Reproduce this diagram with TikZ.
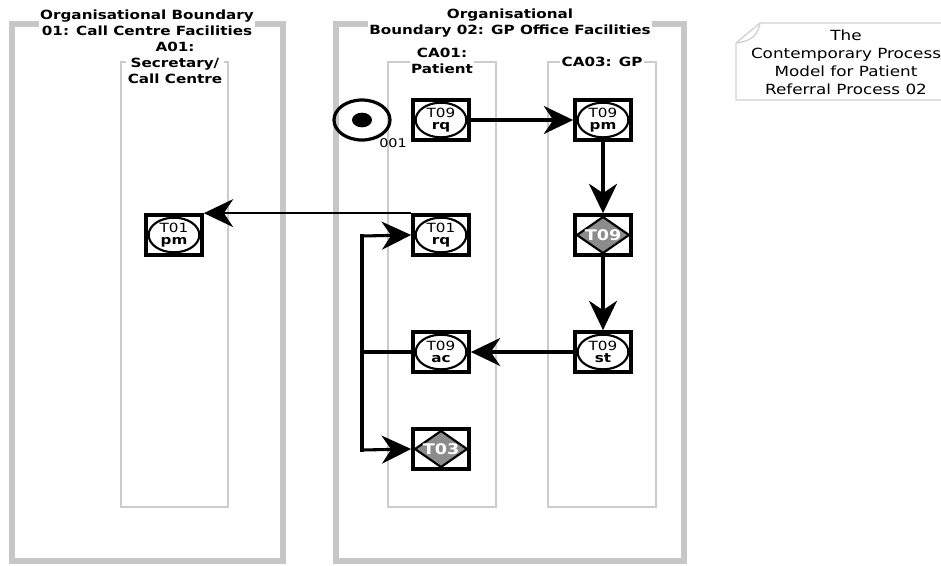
\documentclass[tikz,border=0pt]{standalone}
\usepackage{fontspec}
\setmainfont[FakeStretch=1.2]{DejaVu Sans}
\usetikzlibrary{arrows.meta, shapes.geometric}

\tikzset{
  boundary/.style={draw=black!22, line width=4.5pt},
  lane/.style={draw=black!20, line width=1.2pt},
  title/.style={font=\bfseries\fontsize{9.5}{12}\selectfont, align=center, fill=white, inner sep=1pt},
  trans/.style={draw, line width=2.8pt, minimum width=42pt, minimum height=30pt, inner sep=0pt,
    align=center, font=\fontsize{9.5}{9.2}\selectfont,
    path picture={\draw[line width=1.6pt, fill=white] (path picture bounding box.center) ellipse (19pt and 13pt);}},
  decision/.style={draw, line width=2.8pt, minimum width=42pt, minimum height=30pt, inner sep=0pt,
    font=\bfseries\fontsize{11}{10}\selectfont, text=white,
    path picture={\draw[line width=1.6pt, fill=black!45]
      ([xshift=-19.5pt]path picture bounding box.center) -- ([yshift=13.5pt]path picture bounding box.center)
      -- ([xshift=19.5pt]path picture bounding box.center) -- ([yshift=-13.5pt]path picture bounding box.center) -- cycle;}},
  flow/.style={line width=2.3pt, -{Stealth[length=22pt, width=21pt, inset=7pt]}},
}

\begin{document}
\begin{tikzpicture}[x=0.75pt, y=-0.75pt]
  \useasboundingbox (0,0) rectangle (941,565);
  % organisational boundaries
  \draw[boundary] (12,24) rectangle (283,561);
  \draw[boundary] (336,24) rectangle (684,561);
  \node[title] (ob1) at (147,23) {Organisational Boundary\\01: Call Centre Facilities};
  \node[title] (ob2) at (510,23) {Organisational\\Boundary 02: GP Office Facilities};
  % actor lanes
  \draw[lane] (121,62) rectangle (228,507);
  \draw[lane] (388,62) rectangle (496,507);
  \draw[lane] (548,62) rectangle (656,507);
  \node[title] (a01) at (175,63) {A01:\\Secretary/\\Call Centre};
  \node[title] (ca01) at (442,61) {CA01:\\Patient};
  \node[title] (ca03) at (602,62) {CA03: GP};
  % note
  \draw[draw=black!18, line width=1pt] (736,43) -- (760,23) -- (945,23) -- (945,100) -- (736,100) -- cycle;
  \draw[draw=black!18, line width=1pt] (736,43) .. controls (752,41) and (758,35) .. (760,23);
  \node[align=center, font=\fontsize{10.5}{13.5}\selectfont] (note) at (846,62)
    {The\\Contemporary Process\\Model for Patient\\Referral Process 02};
  % start
  \node[ellipse, draw, line width=2.4pt, minimum width=42pt, minimum height=30pt] (start) at (362,120) {};
  \node[ellipse, fill=black, minimum width=15pt, minimum height=11pt, inner sep=0pt] (dot) at (start.center) {};
  \node[font=\fontsize{9}{9}\selectfont] (n001) at (393,143) {001};
  % transactions
  \node[trans] (t09rq) at (441,120) {T09\\\textbf{rq}};
  \node[trans] (t09pm) at (603,120) {T09\\\textbf{pm}};
  \node[decision] (t09d) at (603,235) {T09};
  \node[trans] (t01rq) at (441,235) {T01\\\textbf{rq}};
  \node[trans] (t01pm) at (174,235) {T01\\\textbf{pm}};
  \node[trans] (t09st) at (603,352) {T09\\\textbf{st}};
  \node[trans] (t09ac) at (441,352) {T09\\\textbf{ac}};
  \node[decision] (t03d) at (441,449) {T03};
  % links
  \draw[flow] (t09rq) -- (t09pm);
  \draw[flow] (t09pm) -- (t09d);
  \draw[flow] (t09d) -- (t09st);
  \draw[flow] (t09st) -- (t09ac);
  \draw[flow, line width=1.6pt] (t01rq.north west) -- (t01pm.north east);
  \coordinate (lmid) at (362,352);
  \coordinate (ltop) at (362,236);
  \coordinate (lbot) at (362,450);
  \draw[line width=2.3pt] (t09ac.west) -- (lmid);
  \draw[line width=2.3pt, line cap=rect] (ltop) -- (lbot);
  \draw[flow] (ltop) -- (t01rq.west);
  \draw[flow] (lbot) -- (t03d.west);
\end{tikzpicture}
\end{document}
